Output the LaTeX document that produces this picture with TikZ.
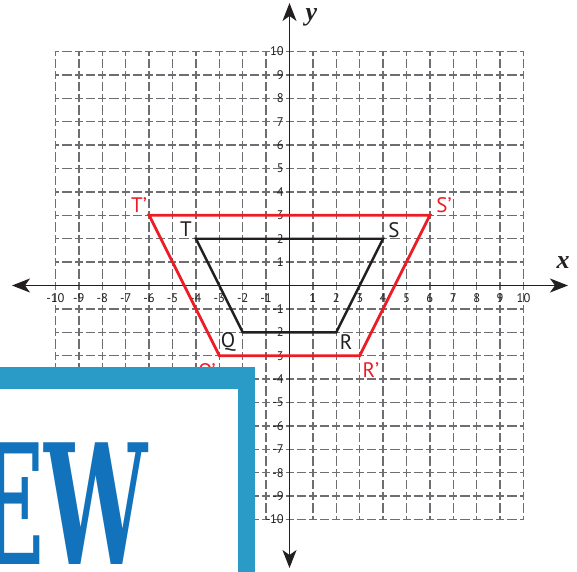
\documentclass[tikz,border=0pt]{standalone}
\usepackage{fontspec}
\setmainfont{PT Sans}
\newfontfamily\axisfont{Liberation Serif}
\newfontfamily\bannerfont{DejaVu Serif}
\usetikzlibrary{arrows.meta}
\definecolor{gridgray}{HTML}{6D6E71}
\definecolor{ptred}{HTML}{ED1C24}
\definecolor{ptblack}{HTML}{231F20}
\definecolor{boxblue}{HTML}{2A9AC6}
\definecolor{textblue}{HTML}{1272BB}
\begin{document}
\begin{tikzpicture}[x=23.4pt,y=23.4pt,
  gridline/.style={draw=gridgray, line width=1.5pt, dash pattern=on 8pt off 3pt on 9.4pt off 3pt, dash phase=4pt},
  axisline/.style={draw=ptblack, line width=1.4pt, {Stealth[length=18pt,width=14pt,inset=5pt]}-{Stealth[length=18pt,width=14pt,inset=5pt]}},
  ticklabel/.style={font=\fontsize{12.5}{12.5}\selectfont, text=ptblack, inner sep=0pt},
  ptlabel/.style={font=\fontsize{21}{21}\selectfont, inner sep=0pt},
  axislabel/.style={font=\axisfont\bfseries\itshape\fontsize{26}{26}\selectfont, inner sep=0pt, text=ptblack},
  shapeblack/.style={draw=ptblack, line width=2.4pt, line join=miter},
  shapered/.style={draw=ptred, line width=2.8pt, line join=miter},
]
\useasboundingbox (-289.5pt,-285.5pt) rectangle (287.5pt,285.5pt);
\clip (-289.5pt,-285.5pt) rectangle (287.5pt,285.5pt);
% grid
\foreach \i in {-10,...,10}{
  \draw[gridline] (-10,\i) -- (10,\i);
  \draw[gridline] (\i,-10) -- (\i,10);
}
% axes
\coordinate (O) at (0,0);
\coordinate (xl) at (-277.5pt,0pt);
\coordinate (xr) at (278.5pt,0pt);
\coordinate (yb) at (0pt,-282.5pt);
\coordinate (yt) at (0pt,282.5pt);
\draw[axisline] (xl) -- (xr);
\draw[axisline] (yb) -- (yt);
\node[axislabel] (xlab) at (273.5pt,22.5pt) {x};
\node[axislabel] (ylab) at (22pt,268pt) {y};
% tick labels
\foreach \i in {-10,...,-1,1,2,...,10}{
  \node[ticklabel] (xt\i) at ([yshift=-12.5pt]\i,0) {\i};
  \node[ticklabel, anchor=east] (yt\i) at ([xshift=-5.5pt]0,\i) {\i};
}
% original trapezoid
\coordinate (T) at (-4,2);
\coordinate (S) at (4,2);
\coordinate (R) at (2,-2);
\coordinate (Q) at (-2,-2);
\draw[shapeblack] (T) -- (S) -- (R) -- (Q) -- cycle;
% image trapezoid
\coordinate (T1) at (-6,3);
\coordinate (S1) at (6,3);
\coordinate (R1) at (3,-3);
\coordinate (Q1) at (-3,-3);
\draw[shapered] (T1) -- (S1) -- (R1) -- (Q1) -- cycle;
% vertex labels
\node[ptlabel, text=ptblack] (Tl) at (-103.5pt,56.5pt) {T};
\node[ptlabel, text=ptblack] (Sl) at (104.5pt,55.5pt) {S};
\node[ptlabel, text=ptblack] (Ql) at (-61.5pt,-56.5pt) {Q};
\node[ptlabel, text=ptblack] (Rl) at (56.5pt,-56.5pt) {R};
\node[ptlabel, text=ptred] (T1l) at (-150.5pt,80.5pt) {T’};
\node[ptlabel, text=ptred] (S1l) at (154.5pt,80.5pt) {S’};
\node[ptlabel, text=ptred] (R1l) at (81.5pt,-84.5pt) {R’};
\node[ptlabel, text=ptred] (Q1l) at (-82.5pt,-87pt) {Q’};
% banner box
\fill[boxblue] (-300pt,-300pt) rectangle (-34.5pt,-81.5pt);
\fill[white] (-300pt,-300pt) rectangle (-51.5pt,-103.5pt);
\node[anchor=south east, inner sep=0pt, text=textblue] (banner) at (-141.5pt,-279.5pt)
  {\bannerfont\bfseries\scalebox{0.55}[1]{\fontsize{167}{167}\selectfont EW}};
\end{tikzpicture}
\end{document}
